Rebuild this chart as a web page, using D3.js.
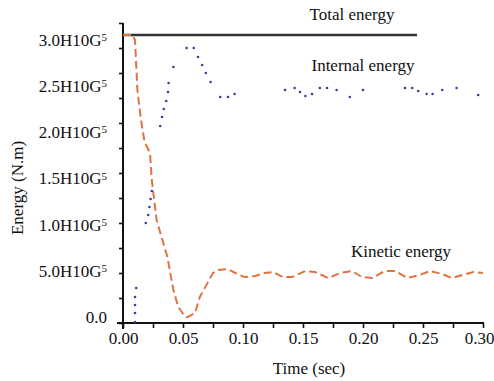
<!DOCTYPE html>
<html>
<head>
<meta charset="utf-8">
<script src="https://cdn.jsdelivr.net/npm/d3@7"></script>
<style>
  html, body { margin: 0; padding: 0; background: #ffffff; }
  svg { display: block; }
  text { font-family: "Liberation Serif", "Times New Roman", serif; fill: #111; }
</style>
</head>
<body>
<div id="chart"></div>
<script>
// ---------------- data ----------------
const xTickValues = [0, 0.05, 0.10, 0.15, 0.20, 0.25, 0.30];
const xTickLabels = ["0.00", "0.05", "0.10", "0.15", "0.20", "0.25", "0.30"];
const yTickValues = [0, 0.5, 1.0, 1.5, 2.0, 2.5, 3.0];
const yTickMain   = ["0.0", "5.0H10G", "1.0H10G", "1.5H10G", "2.0H10G", "2.5H10G", "3.0H10G"];
const yTickSup    = ["", "5", "5", "5", "5", "5", "5"];

const totalTime  = [0, 0.245];
const totalValue = [2.88, 2.88];

const kineticTime  = [0, 0.008, 0.010, 0.012, 0.015, 0.018, 0.0225, 0.024, 0.028, 0.037, 0.042, 0.046, 0.052, 0.054,
                      0.060, 0.064, 0.075, 0.079, 0.087, 0.092, 0.101, 0.110, 0.118, 0.125, 0.133, 0.141, 0.152,
                      0.160, 0.171, 0.181, 0.191, 0.199, 0.208, 0.218, 0.227, 0.237, 0.247, 0.256, 0.266, 0.274,
                      0.283, 0.292, 0.300];
const kineticValue = [2.88, 2.88, 2.83, 2.33, 2.03, 1.81, 1.70, 1.43, 1.03, 0.66, 0.33, 0.16, 0.06, 0.06,
                      0.10, 0.26, 0.50, 0.53, 0.54, 0.51, 0.46, 0.47, 0.50, 0.51, 0.46, 0.46, 0.52,
                      0.51, 0.45, 0.50, 0.52, 0.46, 0.45, 0.52, 0.52, 0.45, 0.48, 0.52, 0.49, 0.45,
                      0.48, 0.51, 0.50];

const internalTime  = [0.010, 0.010, 0.010, 0.010, 0.011, 0.019, 0.021, 0.022, 0.023, 0.024, 0.031, 0.0325, 0.034,
                       0.036, 0.0375, 0.038, 0.042, 0.053, 0.059, 0.0625, 0.066, 0.069, 0.073, 0.081, 0.0875, 0.093,
                       0.135, 0.143, 0.1475, 0.152, 0.1575, 0.164, 0.170, 0.178, 0.189, 0.200,
                       0.235, 0.241, 0.246, 0.253, 0.258, 0.266, 0.278, 0.296];
const internalValue = [0.01, 0.10, 0.18, 0.26, 0.35, 1.00, 1.08, 1.16, 1.24, 1.32, 1.97, 2.06, 2.14,
                       2.22, 2.31, 2.40, 2.56, 2.75, 2.75, 2.66, 2.58, 2.50, 2.41, 2.26, 2.26, 2.29,
                       2.33, 2.35, 2.31, 2.27, 2.29, 2.35, 2.35, 2.33, 2.26, 2.33,
                       2.35, 2.35, 2.32, 2.29, 2.29, 2.33, 2.35, 2.28];

const seriesLabels = ["Total energy", "Internal energy", "Kinetic energy"];

// ---------------- chart ----------------
const W = 494, H = 381;
const svg = d3.select("#chart").append("svg").attr("width", W).attr("height", H);

const x = d3.scaleLinear().domain([0, 0.30]).range([123, 483]);
const y = d3.scaleLinear().domain([0, 3.0]).range([323, 23]);
// printed tick labels sit on a slightly compressed ladder in the original figure
const yLab = d3.scaleLinear().domain([0, 3.0]).range([317, 40]);

// axes: ticks
const xAxis = d3.axisBottom(x).tickValues(d3.range(0, 0.3001, 0.025)).tickSize(5).tickFormat("");
const gx = svg.append("g").attr("transform", "translate(0,323)").call(xAxis);
gx.select(".domain").remove();
gx.selectAll(".tick line").attr("stroke", "#111").attr("stroke-width", 1.6);

const yAxis = d3.axisLeft(y).tickValues(d3.range(0, 3.0001, 0.25)).tickSize(4).tickFormat("");
const gy = svg.append("g").attr("transform", "translate(123,0)").call(yAxis);
gy.select(".domain").remove();
gy.selectAll(".tick line").attr("stroke", "#111").attr("stroke-width", 1.6);

// axis lines
svg.append("line").attr("x1", 117).attr("x2", x(0.30) + 1).attr("y1", 323).attr("y2", 323)
  .attr("stroke", "#111").attr("stroke-width", 2);
svg.append("line").attr("x1", 123).attr("x2", 123).attr("y1", y(3.0)).attr("y2", 329)
  .attr("stroke", "#111").attr("stroke-width", 2);

// x tick labels
const xLabAxis = d3.axisBottom(x).tickValues(xTickValues).tickSize(0)
  .tickFormat((d, i) => xTickLabels[i]);
const gxl = svg.append("g").attr("transform", "translate(0,329)").call(xLabAxis);
gxl.select(".domain").remove();
gxl.selectAll("text").attr("font-size", 17).attr("font-family", "Liberation Serif, serif").attr("fill", "#111")
  .attr("dx", (d, i, n) => i === n.length - 1 ? -4 : 0);

// y tick labels
const yLabAxis = d3.axisLeft(yLab).tickValues(yTickValues).tickSize(0).tickFormat("");
const gyl = svg.append("g").attr("transform", "translate(110,0)").call(yLabAxis);
gyl.select(".domain").remove();
gyl.selectAll(".tick text").each(function(d, i) {
  const t = d3.select(this).attr("font-size", 17).attr("font-family", "Liberation Serif, serif").attr("fill", "#111");
  const idx = yTickValues.indexOf(d);
  t.text(null);
  t.append("tspan").text(yTickMain[idx]);
  if (yTickSup[idx]) {
    t.append("tspan").attr("dy", "-0.45em").attr("font-size", 11).text(yTickSup[idx]);
  }
});

// total energy
const line = d3.line().x(d => x(d[0])).y(d => y(d[1]));
svg.append("path")
  .datum(totalTime.map((t, i) => [t, totalValue[i]]))
  .attr("d", line).attr("fill", "none").attr("stroke", "#333").attr("stroke-width", 2.6);

// kinetic energy
svg.append("path")
  .datum(kineticTime.map((t, i) => [t, kineticValue[i]]))
  .attr("d", line).attr("fill", "none").attr("stroke", "#df7440").attr("stroke-width", 2)
  .attr("stroke-dasharray", "8,4");

// internal energy (dots)
svg.append("g").selectAll("circle")
  .data(internalTime.map((t, i) => [t, internalValue[i]]))
  .join("circle")
  .attr("cx", d => x(d[0])).attr("cy", d => y(d[1])).attr("r", 1.3)
  .attr("fill", "#3d3d9c");

// series labels
const labelPos = [[352, 20], [363, 71], [401, 257]];
seriesLabels.forEach((s, i) => {
  svg.append("text").attr("x", labelPos[i][0]).attr("y", labelPos[i][1])
    .attr("text-anchor", "middle").attr("font-size", 17).text(s);
});

// axis titles
svg.append("text").attr("x", 309).attr("y", 374).attr("text-anchor", "middle")
  .attr("font-size", 17).text("Time (sec)");
svg.append("text").attr("transform", "translate(23,188) rotate(-90)")
  .attr("text-anchor", "middle").attr("font-size", 17).text("Energy (N.m)");
</script>
</body>
</html>
